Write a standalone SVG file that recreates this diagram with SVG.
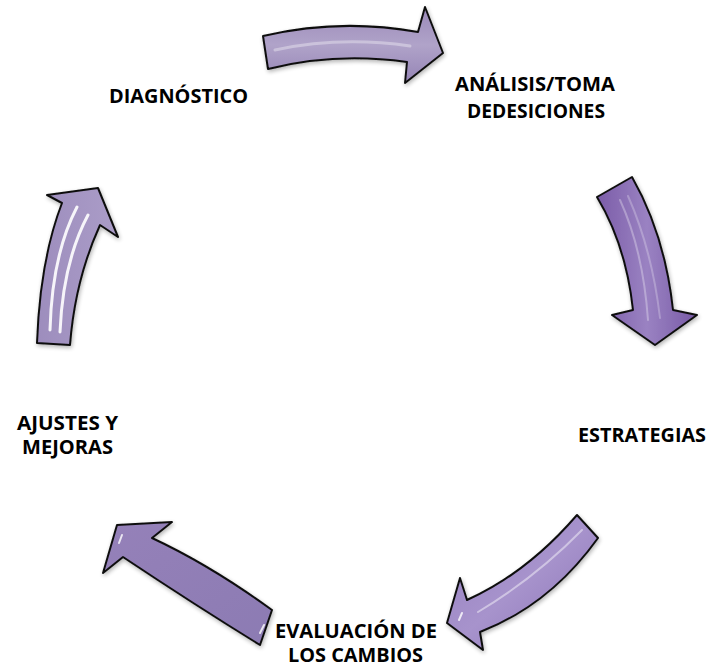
<svg xmlns="http://www.w3.org/2000/svg" width="715" height="669" viewBox="0 0 715 669">
<style>
.lbl{font-family:"Open Sans","Lato","Liberation Sans",sans-serif;font-weight:bold;font-size:19px;fill:#000;}
.arr{stroke:#111;stroke-width:2;stroke-linejoin:round;filter:url(#sh);}
.hl{fill:none;stroke:#fff;stroke-linecap:round;}
</style>
<defs>
<filter id="sh" x="-20%" y="-20%" width="140%" height="140%">
<feGaussianBlur in="SourceAlpha" stdDeviation="2"/>
<feOffset dx="1" dy="2" result="b"/>
<feComponentTransfer><feFuncA type="linear" slope="0.3"/></feComponentTransfer>
<feMerge><feMergeNode/><feMergeNode in="SourceGraphic"/></feMerge>
</filter>
<linearGradient id="gTop" x1="0" y1="0" x2="0" y2="1">
<stop offset="0" stop-color="#9a89b8"/><stop offset="0.5" stop-color="#b0a3c9"/><stop offset="1" stop-color="#9584b5"/>
</linearGradient>
<linearGradient id="gRight" x1="0" y1="0" x2="1" y2="0">
<stop offset="0" stop-color="#7b5ca8"/><stop offset="0.5" stop-color="#9a82c2"/><stop offset="1" stop-color="#785aa6"/>
</linearGradient>
<linearGradient id="gBR" x1="0" y1="0" x2="1" y2="1">
<stop offset="0" stop-color="#957fbf"/><stop offset="0.5" stop-color="#a793cc"/><stop offset="1" stop-color="#8a72b5"/>
</linearGradient>
<linearGradient id="gBL" x1="0" y1="0" x2="1" y2="1">
<stop offset="0" stop-color="#9581b9"/><stop offset="1" stop-color="#8c7bb3"/>
</linearGradient>
<linearGradient id="gLeft" x1="0" y1="0" x2="1" y2="0">
<stop offset="0" stop-color="#9d8dbd"/><stop offset="1" stop-color="#ab9dc8"/>
</linearGradient>
</defs>
<rect width="715" height="669" fill="#fff"/>
<g id="connectors">
<g id="arrow-top">
<path class="arr" fill="url(#gTop)" d="M263,36 Q340,18 418,32 L425,7 L443,53 L405,83 L407,62 Q335,52 268,69 Z"/>
<path class="hl" stroke-opacity="0.35" stroke-width="3" d="M275,50 Q340,36 410,46"/>
</g>
<g id="arrow-right">
<path class="arr" fill="url(#gRight)" d="M632,177 Q665,235 673,310 L697,315 L655,345 L612,315 L633,310 Q626,245 597,197 Z"/>
<path class="hl" stroke-opacity="0.3" stroke-width="2" d="M620,200 Q643,250 648,320"/>
<path class="hl" stroke-opacity="0.25" stroke-width="2" d="M628,196 Q652,250 660,318"/>
</g>
<g id="arrow-bottom-right">
<path class="arr" fill="url(#gBR)" d="M577,515 Q527,573 467,600 L460,578 L447,623 L483,650 L480,632 Q550,605 598,538 Z"/>
<path class="hl" stroke-opacity="0.45" stroke-width="2" d="M582,530 Q535,578 478,612"/>
<path class="hl" stroke-opacity="0.8" stroke-width="2" d="M459,620 L462,613"/>
</g>
<g id="arrow-bottom-left">
<path class="arr" fill="url(#gBL)" d="M272,610 Q210,565 152,538 L172,522 L117,525 L103,573 L123,557 Q195,605 260,645 Z"/>
<path class="hl" stroke-opacity="0.8" stroke-width="2" d="M264,625 L260,633"/>
<path class="hl" stroke-opacity="0.8" stroke-width="2" d="M122,535 L119,543"/>
</g>
<g id="arrow-left">
<path class="arr" fill="url(#gLeft)" d="M37,343 Q40,260 62,203 L47,195 L98,188 L118,237 L100,225 Q75,280 70,345 Z"/>
<path class="hl" stroke-opacity="0.9" stroke-width="3" d="M50,330 Q52,255 77,207"/>
<path class="hl" stroke-opacity="0.9" stroke-width="3" d="M60,332 Q63,262 88,215"/>
</g>
</g>
<g id="node-diagnostico">
<text class="lbl" x="109" y="103" textLength="139" lengthAdjust="spacingAndGlyphs">DIAGNÓSTICO</text>
</g>
<g id="node-analisis">
<text class="lbl" x="455" y="91" textLength="160" lengthAdjust="spacingAndGlyphs">ANÁLISIS/TOMA</text>
<text class="lbl" x="467" y="118" textLength="138" lengthAdjust="spacingAndGlyphs">DEDESICIONES</text>
</g>
<g id="node-estrategias">
<text class="lbl" x="578" y="442" textLength="128" lengthAdjust="spacingAndGlyphs">ESTRATEGIAS</text>
</g>
<g id="node-evaluacion">
<text class="lbl" x="275" y="638" textLength="162" lengthAdjust="spacingAndGlyphs">EVALUACIÓN DE</text>
<text class="lbl" x="288" y="662" textLength="135" lengthAdjust="spacingAndGlyphs">LOS CAMBIOS</text>
</g>
<g id="node-ajustes">
<text class="lbl" x="17" y="430" textLength="101" lengthAdjust="spacingAndGlyphs">AJUSTES Y</text>
<text class="lbl" x="22" y="454" textLength="91" lengthAdjust="spacingAndGlyphs">MEJORAS</text>
</g>
</svg>
